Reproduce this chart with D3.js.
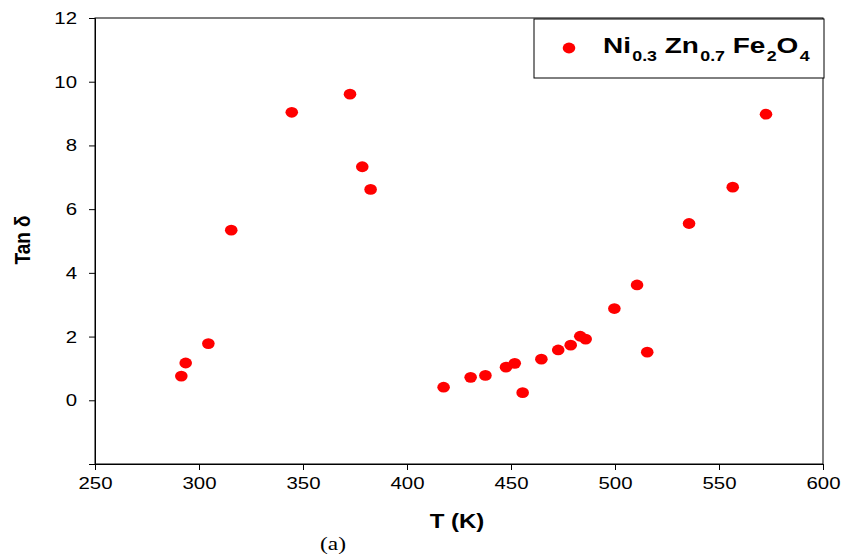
<!DOCTYPE html>
<html>
<head>
<meta charset="utf-8">
<script src="https://cdn.jsdelivr.net/npm/d3@7"></script>
<style>
  body { margin: 0; background: #fff; }
  svg text { font-family: "Liberation Sans", Arial, sans-serif; }
</style>
</head>
<body>
<svg id="chart" width="845" height="560"></svg>
<script>
// temperature (K) and loss tangent
const temps = [291.5, 293.6, 304.5, 315.5, 344.6, 372.6, 378.5, 382.5,
  417.6, 430.6, 437.7, 447.6, 451.8, 455.6, 464.6, 472.7, 478.7, 483.3,
  485.9, 499.7, 510.6, 515.5, 535.6, 556.6, 572.6]
const tanDelta = [0.76, 1.17, 1.78, 5.34, 9.04, 9.61, 7.33, 6.62,
  0.41, 0.72, 0.78, 1.04, 1.16, 0.24, 1.29, 1.58, 1.73, 2.01,
  1.92, 2.88, 3.62, 1.51, 5.55, 6.69, 8.98]
const xTicks = [250, 300, 350, 400, 450, 500, 550, 600]
const yTicks = [0, 2, 4, 6, 8, 10, 12]

let svg = d3.select('#chart')
let pLeft = 95, pRight = 823, pTop = 18, pBottom = 464
// the source picture is a little wider than tall, text comes out stretched
let sx = 1.2

function stretchX(sel, k) {
  sel.each(function () {
    let t = d3.select(this)
    let x0 = +t.attr('x') || 0
    t.attr('x', x0 / k).attr('transform', `scale(${k},1)`)
  })
}

let x = d3.scaleLinear().domain([250, 600]).range([pLeft, pRight])
let y = d3.scaleLinear().domain([-2, 12]).range([pBottom, pTop])

// frame
svg.append('rect')
  .attr('x', pLeft).attr('y', pTop)
  .attr('width', pRight - pLeft).attr('height', pBottom - pTop)
  .attr('fill', 'none').attr('stroke', '#000').attr('stroke-width', 1)

let xAxis = svg.append('g')
  .attr('transform', `translate(0,${pBottom})`)
  .call(d3.axisBottom(x).tickValues(xTicks).tickSize(6).tickPadding(7))
let yAxis = svg.append('g')
  .attr('transform', `translate(${pLeft},0)`)
  .call(d3.axisLeft(y).tickValues(yTicks).tickSize(6).tickPadding(12))

;[xAxis, yAxis].forEach(g => {
  g.select('.domain').attr('stroke', '#000')
  g.selectAll('.tick line').attr('stroke', '#000')
  g.selectAll('.tick text')
    .attr('fill', '#000')
    .style('font-size', '17px')
    .style('font-family', '"Liberation Sans", Arial, sans-serif')
    .call(stretchX, sx)
})

// axis titles
svg.append('text')
  .attr('x', 457).attr('y', 528)
  .attr('text-anchor', 'middle')
  .style('font-size', '20px').style('font-weight', 'bold')
  .text('T (K)')
  .call(stretchX, sx)

svg.append('text')
  .attr('transform', `translate(30,240) scale(${sx},1) rotate(-90)`)
  .attr('text-anchor', 'middle')
  .style('font-size', '19px').style('font-weight', 'bold')
  .text('Tan δ')

svg.append('text')
  .attr('x', 333).attr('y', 550)
  .attr('text-anchor', 'middle')
  .style('font-family', '"Liberation Serif", "Times New Roman", serif')
  .style('font-size', '18px')
  .text('(a)')
  .call(stretchX, 1.3)

// data points
svg.append('g').selectAll('ellipse')
  .data(temps)
  .join('ellipse')
  .attr('cx', d => x(d))
  .attr('cy', (d, i) => y(tanDelta[i]))
  .attr('rx', 6.3).attr('ry', 5.4)
  .attr('fill', '#ff0000')

// legend
let legend = svg.append('g')
legend.append('rect')
  .attr('x', 534).attr('y', 19)
  .attr('width', 290).attr('height', 59)
  .attr('fill', '#fff').attr('stroke', '#000').attr('stroke-width', 1)
legend.append('ellipse')
  .attr('cx', 569).attr('cy', 48)
  .attr('rx', 6.3).attr('ry', 5.4)
  .attr('fill', '#ff0000')

let parts = [
  ['Ni', false], ['0.3', true], [' Zn', false], ['0.7', true],
  [' Fe', false], ['2', true], ['O', false], ['4', true]
]
let lg = legend.append('g').attr('transform', 'translate(603,53)')
let lt = lg.append('text')
  .attr('x', 0).attr('y', 0)
  .style('font-size', '22px').style('font-weight', 'bold')
let prevSub = false
parts.forEach(([s, sub]) => {
  let dy = sub ? 8 : (prevSub ? -8 : 0)
  lt.append('tspan')
    .attr('dy', dy)
    .attr('dx', sub ? 1 : 0)
    .style('font-size', sub ? '14px' : '22px')
    .style('white-space', 'pre')
    .text(s)
  prevSub = sub
})
// fit legend label to its width in the source
let lw = lt.node().getBBox().width
lg.attr('transform', `translate(603,53) scale(${207 / lw},1)`)
</script>
</body>
</html>
